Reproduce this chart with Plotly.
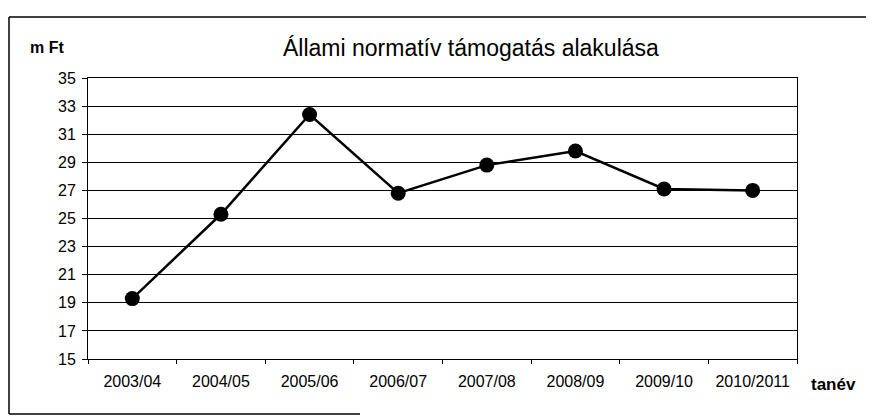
import plotly.graph_objects as go

categories = ["2003/04", "2004/05", "2005/06", "2006/07", "2007/08", "2008/09", "2009/10", "2010/2011"]
values = [19.3, 25.3, 32.4, 26.8, 28.8, 29.8, 27.1, 27.0]
y_ticks = [15, 17, 19, 21, 23, 25, 27, 29, 31, 33, 35]

title_text = "Állami normatív támogatás alakulása"
y_unit = "m Ft"
x_unit = "tanév"

# page body has an 8px margin; work in window pixel coordinates
OFF = 8
W, H = 874 - OFF, 420 - OFF
L, R, T, B = 88 - OFF, 77, 78 - OFF, 61
pw, ph = W - L - R, H - T - B


def px(x):
    return (x - OFF - L) / pw


def py(y):
    return (H - B - (y - OFF)) / ph


fig = go.Figure()
fig.add_trace(go.Scatter(
    x=categories, y=values, mode="lines+markers",
    line=dict(color="black", width=2.5),
    marker=dict(color="black", size=15),
    showlegend=False, hoverinfo="x+y",
))

font = "Liberation Sans, Arial, sans-serif"

fig.update_layout(
    width=W, height=H,
    margin=dict(l=L, r=R, t=T, b=B),
    paper_bgcolor="white", plot_bgcolor="white",
    font=dict(family=font, color="black"),
    xaxis=dict(
        type="category", range=[-0.5, len(categories) - 0.5],
        showline=True, linecolor="black", linewidth=1, mirror=True,
        ticks="outside", tickson="boundaries", ticklen=4, tickcolor="black",
        showgrid=False, tickfont=dict(size=16, family=font),
        ticklabelstandoff=8,
    ),
    yaxis=dict(
        range=[15, 35], tickvals=y_ticks,
        showline=True, linecolor="black", linewidth=1, mirror=True,
        ticks="outside", ticklen=5, tickcolor="black",
        showgrid=True, gridcolor="black", gridwidth=1,
        tickfont=dict(size=16, family=font),
        ticklabelstandoff=3,
        zeroline=False,
    ),
    annotations=[
        dict(text=title_text, x=px(471), y=py(48), xref="paper", yref="paper",
             showarrow=False, xanchor="center", yanchor="middle",
             font=dict(size=23, family=font)),
        dict(text="<b>" + y_unit + "</b>", x=px(47), y=py(48), xref="paper", yref="paper",
             showarrow=False, xanchor="center", yanchor="middle",
             font=dict(size=16, family=font)),
        dict(text="<b>" + x_unit + "</b>", x=px(833), y=py(384), xref="paper", yref="paper",
             showarrow=False, xanchor="center", yanchor="middle",
             font=dict(size=17, family=font)),
    ],
    shapes=[
        dict(type="line", xref="paper", yref="paper", x0=px(9), x1=px(874), y0=py(17), y1=py(17),
             line=dict(color="black", width=1.5)),
        dict(type="line", xref="paper", yref="paper", x0=px(9), x1=px(9), y0=py(17), y1=py(414),
             line=dict(color="black", width=1.5)),
        dict(type="line", xref="paper", yref="paper", x0=px(9), x1=px(360), y0=py(414), y1=py(414),
             line=dict(color="black", width=1.5)),
    ],
)

fig.write_html("out.html")
